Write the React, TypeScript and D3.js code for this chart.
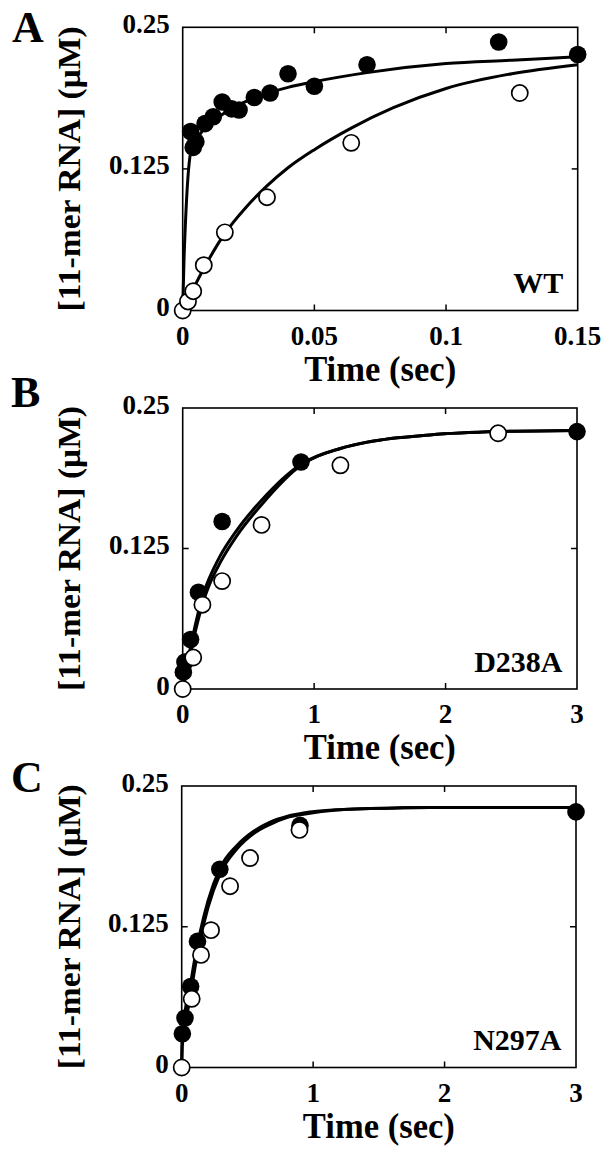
import React from "react";
import * as d3 from "d3";

// ---------- data ----------
// Panel A (WT), time in sec, [11-mer RNA] in µM
const aFilledT = [0.003, 0.005, 0.004, 0.0085, 0.0116, 0.015, 0.0186, 0.0214, 0.0272, 0.0332, 0.040, 0.050, 0.070, 0.120, 0.150];
const aFilledV = [0.158, 0.149, 0.144, 0.165, 0.171, 0.184, 0.178, 0.177, 0.188, 0.192, 0.209, 0.198, 0.217, 0.237, 0.226];
const aOpenT = [0, 0.002, 0.004, 0.008, 0.016, 0.032, 0.064, 0.128];
const aOpenV = [0, 0.008, 0.017, 0.040, 0.069, 0.100, 0.148, 0.192];
const aFitFilledT = [0, 0.0005, 0.001, 0.002, 0.003, 0.005, 0.008, 0.012, 0.02, 0.03, 0.04, 0.05, 0.07, 0.1, 0.125, 0.15];
const aFitFilledV = [0, 0.045, 0.075, 0.118, 0.139, 0.150, 0.160, 0.168, 0.180, 0.190, 0.197, 0.202, 0.210, 0.218, 0.221, 0.224];
const aFitOpenT = [0, 0.004, 0.008, 0.016, 0.024, 0.032, 0.04, 0.05, 0.064, 0.08, 0.1, 0.125, 0.15];
const aFitOpenV = [0, 0.019, 0.037, 0.068, 0.091, 0.110, 0.126, 0.142, 0.161, 0.179, 0.196, 0.209, 0.217];

// Panel B (D238A)
const bFilledT = [0.005, 0.017, 0.06, 0.12, 0.30, 0.90, 3.0];
const bFilledV = [0.015, 0.024, 0.044, 0.086, 0.149, 0.202, 0.229];
const bOpenT = [0, 0.08, 0.15, 0.30, 0.60, 1.2, 2.4];
const bOpenV = [0, 0.028, 0.075, 0.096, 0.146, 0.199, 0.2275];
const bFitFilledT = [0, 0.05, 0.1, 0.157, 0.2, 0.283, 0.41, 0.6, 0.9, 1.2, 1.42, 1.88, 2.4, 3];
const bFitFilledV = [0, 0.032, 0.059, 0.085, 0.098, 0.118, 0.141, 0.168, 0.200, 0.214, 0.220, 0.226, 0.229, 0.230];
const bFitOpenT = [0, 0.05, 0.1, 0.157, 0.2, 0.283, 0.41, 0.6, 0.9, 1.2, 1.42, 1.88, 2.4, 3];
const bFitOpenV = [0, 0.027, 0.053, 0.078, 0.092, 0.112, 0.136, 0.164, 0.199, 0.214, 0.220, 0.226, 0.229, 0.230];

// Panel C (N297A)
const cFilledT = [0.005, 0.025, 0.068, 0.12, 0.29, 0.9, 3.0];
const cFilledV = [0.030, 0.044, 0.072, 0.112, 0.176, 0.215, 0.227];
const cOpenT = [0, 0.076, 0.147, 0.223, 0.368, 0.52, 0.896];
const cOpenV = [0, 0.061, 0.100, 0.122, 0.161, 0.186, 0.211];
const cFitFilledT = [0, 0.003, 0.02, 0.068, 0.1, 0.14, 0.2, 0.292, 0.419, 0.55, 0.673, 0.8, 0.927, 1.2, 1.434, 1.89, 2.5, 3];
const cFitFilledV = [0, 0.030, 0.046, 0.075, 0.097, 0.120, 0.148, 0.177, 0.197, 0.210, 0.218, 0.223, 0.226, 0.229, 0.230, 0.231, 0.231, 0.231];
const cFitOpenT = [0, 0.005, 0.03, 0.07, 0.1, 0.14, 0.2, 0.292, 0.419, 0.55, 0.673, 0.8, 0.927, 1.2, 1.434, 1.89, 2.5, 3];
const cFitOpenV = [0, 0.020, 0.040, 0.066, 0.088, 0.113, 0.142, 0.172, 0.194, 0.208, 0.216, 0.222, 0.225, 0.229, 0.230, 0.231, 0.231, 0.231];

const yTickValues = [0, 0.125, 0.25];
const yTickLabels = ["0", "0.125", "0.25"];
const aXTicks = [0, 0.05, 0.1, 0.15];
const aXTickLabels = ["0", "0.05", "0.1", "0.15"];
const bcXTicks = [0, 1, 2, 3];
const bcXTickLabels = ["0", "1", "2", "3"];

const panelLetters = ["A", "B", "C"];
const mutantLabels = ["WT", "D238A", "N297A"];
const xTitle = "Time (sec)";
const yTitle = "[11-mer RNA] (\u03bcM)";

// ---------- layout ----------
const FONT = "'Liberation Serif', 'Times New Roman', Times, serif";
const panels = [
  {
    box: { x0: 182.7, x1: 577.7, y0: 27.3, y1: 310.5 }, xMax: 0.15,
    xTicks: aXTicks, xLabels: aXTickLabels,
    filledT: aFilledT, filledV: aFilledV, openT: aOpenT, openV: aOpenV,
    fitFT: aFitFilledT, fitFV: aFitFilledV, fitOT: aFitOpenT, fitOV: aFitOpenV,
    letterPos: [12, 42],
  },
  {
    box: { x0: 182.7, x1: 577, y0: 408, y1: 689 }, xMax: 3,
    xTicks: bcXTicks, xLabels: bcXTickLabels,
    filledT: bFilledT, filledV: bFilledV, openT: bOpenT, openV: bOpenV,
    fitFT: bFitFilledT, fitFV: bFitFilledV, fitOT: bFitOpenT, fitOV: bFitOpenV,
    letterPos: [11, 407],
  },
  {
    box: { x0: 181.7, x1: 576, y0: 786, y1: 1067.5 }, xMax: 3,
    xTicks: bcXTicks, xLabels: bcXTickLabels,
    filledT: cFilledT, filledV: cFilledV, openT: cOpenT, openV: cOpenV,
    fitFT: cFitFilledT, fitFV: cFitFilledV, fitOT: cFitOpenT, fitOV: cFitOpenV,
    letterPos: [11, 792],
  },
];

function Panel({ p, i }: { p: any; i: number }) {
  const { x0, x1, y0, y1 } = p.box;
  const x = d3.scaleLinear().domain([0, p.xMax]).range([x0, x1]);
  const y = d3.scaleLinear().domain([0, 0.25]).range([y1, y0]);
  const line = d3
    .line<[number, number]>()
    .x((d) => x(d[0]))
    .y((d) => y(d[1]))
    .curve(d3.curveMonotoneX);
  const fitF = line(p.fitFT.map((t: number, k: number) => [t, p.fitFV[k]]));
  const fitO = line(p.fitOT.map((t: number, k: number) => [t, p.fitOV[k]]));
  const tl = 6;
  const innerX = p.xTicks.slice(1, -1);
  const innerY = yTickValues.slice(1, -1);
  return (
    <g>
      <text x={p.letterPos[0]} y={p.letterPos[1]} fontFamily={FONT} fontWeight="bold" fontSize={44}>
        {panelLetters[i]}
      </text>
      {/* frame */}
      <rect x={x0} y={y0} width={x1 - x0} height={y1 - y0} fill="none" stroke="#000" strokeWidth={1.6} />
      {innerX.map((t: number) => (
        <g key={"xt" + t}>
          <line x1={x(t)} x2={x(t)} y1={y1} y2={y1 - tl} stroke="#000" strokeWidth={1.5} />
          <line x1={x(t)} x2={x(t)} y1={y0} y2={y0 + tl} stroke="#000" strokeWidth={1.5} />
        </g>
      ))}
      {innerY.map((v: number) => (
        <g key={"yt" + v}>
          <line x1={x0} x2={x0 + tl} y1={y(v)} y2={y(v)} stroke="#000" strokeWidth={1.5} />
          <line x1={x1} x2={x1 - tl} y1={y(v)} y2={y(v)} stroke="#000" strokeWidth={1.5} />
        </g>
      ))}
      {/* tick labels */}
      {yTickValues.map((v, k) => (
        <text key={"yl" + k} x={x0 - 13} y={y(v) - 3.5} textAnchor="end" dominantBaseline="central"
          fontFamily={FONT} fontWeight="bold" fontSize={27}>
          {yTickLabels[k]}
        </text>
      ))}
      {p.xTicks.map((t: number, k: number) => (
        <text key={"xl" + k} x={x(t)} y={y1 + 34} textAnchor="middle"
          fontFamily={FONT} fontWeight="bold" fontSize={27}>
          {p.xLabels[k]}
        </text>
      ))}
      {/* titles */}
      <text x={(x0 + x1) / 2} y={y1 + 70} textAnchor="middle" fontFamily={FONT} fontWeight="bold"
        fontSize={35} textLength={152} lengthAdjust="spacingAndGlyphs">
        {xTitle}
      </text>
      <text transform={`translate(80,${(y0 + y1) / 2}) rotate(-90)`} textAnchor="middle" fontFamily={FONT}
        fontWeight="bold" fontSize={32} textLength={285} lengthAdjust="spacingAndGlyphs">
        {yTitle}
      </text>
      <text x={x1 - 14.5} y={y1 - 17.5} textAnchor="end" fontFamily={FONT} fontWeight="bold" fontSize={30}>
        {mutantLabels[i]}
      </text>
      {/* fitted curves */}
      <path d={fitO || ""} fill="none" stroke="#000" strokeWidth={3} strokeLinejoin="round" />
      <path d={fitF || ""} fill="none" stroke="#000" strokeWidth={3} strokeLinejoin="round" />
      {/* points */}
      {p.filledT.map((t: number, k: number) => (
        <circle key={"f" + k} cx={x(t)} cy={y(p.filledV[k])} r={8.8} fill="#000" />
      ))}
      {p.openT.map((t: number, k: number) => (
        <circle key={"o" + k} cx={x(t)} cy={y(p.openV[k])} r={8.1} fill="#fff" stroke="#000" strokeWidth={1.7} />
      ))}
    </g>
  );
}

export default function App() {
  return (
    <svg width={609} height={1153} style={{ position: "absolute", left: 0, top: 0, background: "#fff" }}>
      <rect x={0} y={0} width={609} height={1153} fill="#fff" />
      {panels.map((p, i) => (
        <Panel key={i} p={p} i={i} />
      ))}
    </svg>
  );
}
